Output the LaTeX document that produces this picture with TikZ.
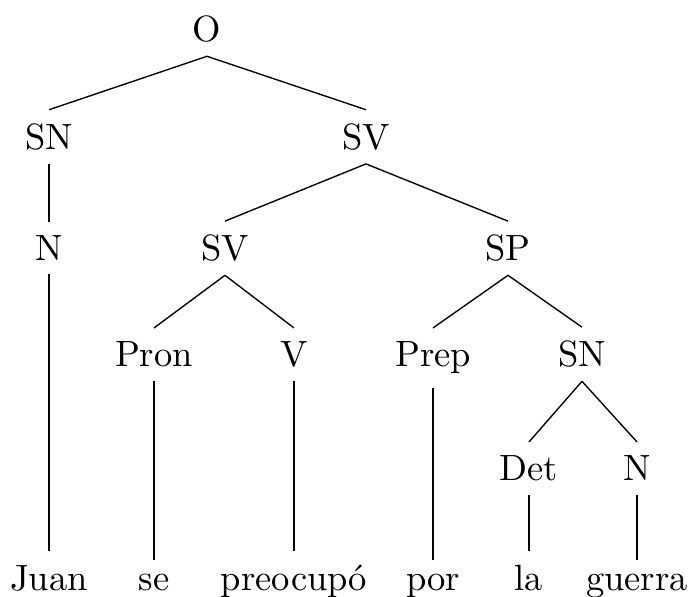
\documentclass[tikz,border=0pt]{standalone}
\begin{document}
\begin{tikzpicture}[x=0.29pt,y=-0.29pt,
  lbl/.style={anchor=base,inner sep=3.8pt,font=\fontsize{10.6}{12.7}\selectfont},
  edge/.style={draw=black,line width=0.4pt}]
\useasboundingbox (0,0) rectangle (689,597);
% level 0
\node[lbl] (O) at (207,41.7) {O};
% level 1
\node[lbl] (SN1) at (49,149.3) {SN};
\node[lbl] (SV1) at (366,149.3) {SV};
% level 2
\node[lbl] (N1) at (49,260.7) {N};
\node[lbl] (SV2) at (225,260.7) {SV};
\node[lbl] (SP) at (508,260.7) {SP};
% level 3
\node[lbl] (Pron) at (154,366.7) {Pron};
\node[lbl] (V) at (294,366.7) {V};
\node[lbl] (Prep) at (433,366.7) {Prep};
\node[lbl] (SN2) at (582,366.7) {SN};
% level 4
\node[lbl] (Det) at (529,480.7) {Det};
\node[lbl] (N2) at (637,480.7) {N};
% leaves
\node[lbl] (Juan) at (49,590) {Juan};
\node[lbl] (se) at (154,590) {se};
\node[lbl] (preocupo) at (294,590) {preocup\'o};
\node[lbl] (por) at (433,590) {por};
\node[lbl] (la) at (529,590) {la};
\node[lbl] (guerra) at (637,590) {guerra};
% edges
\draw[edge] (O.south) -- (SN1.north);
\draw[edge] (O.south) -- (SV1.north);
\draw[edge] (SN1.south) -- (N1.north);
\draw[edge] (N1.south) -- (Juan.north);
\draw[edge] (SV1.south) -- (SV2.north);
\draw[edge] (SV1.south) -- (SP.north);
\draw[edge] (SV2.south) -- (Pron.north);
\draw[edge] (SV2.south) -- (V.north);
\draw[edge] (Pron.south) -- (se.north);
\draw[edge] (V.south) -- (preocupo.north);
\draw[edge] (SP.south) -- (Prep.north);
\draw[edge] (SP.south) -- (SN2.north);
\draw[edge] (Prep.south) -- (por.north);
\draw[edge] (SN2.south) -- (Det.north);
\draw[edge] (SN2.south) -- (N2.north);
\draw[edge] (Det.south) -- (la.north);
\draw[edge] (N2.south) -- (guerra.north);
\end{tikzpicture}
\end{document}
